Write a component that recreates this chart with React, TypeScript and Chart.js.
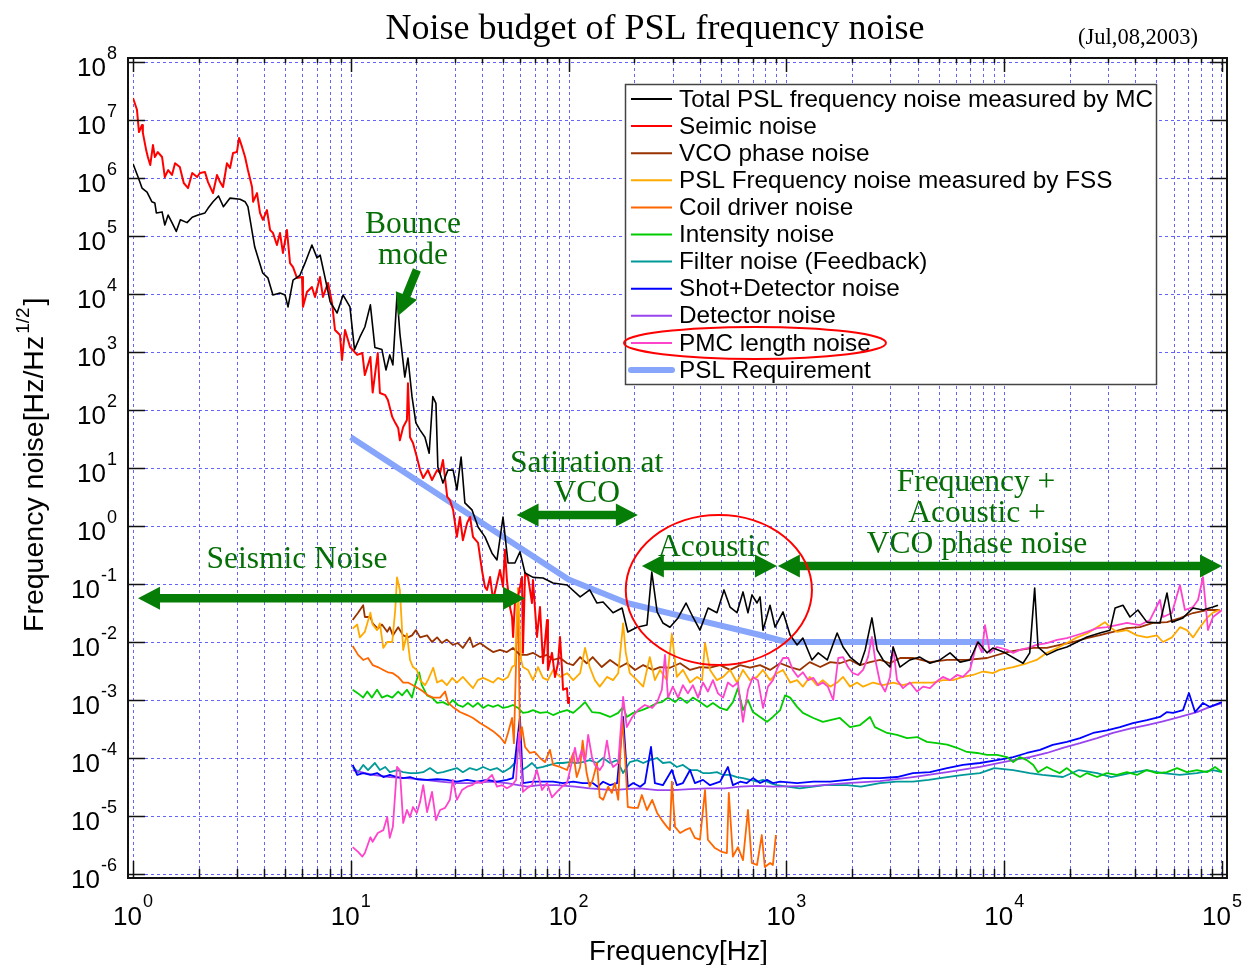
import React, { useEffect, useRef } from "react";
import { Chart, registerables } from "chart.js";

Chart.register(...registerables);

type Pt = [number, number];

// ---------------- data (frequency [Hz], noise [Hz/Hz^1/2]) ----------------
const xTickExponents = [0, 1, 2, 3, 4, 5];
const yTickExponents = [-6, -5, -4, -3, -2, -1, 0, 1, 2, 3, 4, 5, 6, 7, 8];

const totalMC: Pt[] = [
  [1.0, 1.75e6], [1.054, 1.05e6], [1.1, 6.7e5], [1.16, 5.7e5], [1.22, 3.9e5], [1.26, 3.7e5], [1.28, 2.5e5], [1.36, 2.6e5],
  [1.4, 1.55e5], [1.45, 2.3e5], [1.51, 1.7e5], [1.58, 1.2e5], [1.65, 1.9e5], [1.77, 1.7e5], [1.87, 2.1e5], [1.99, 2.3e5],
  [2.14, 2.5e5], [2.21, 3.0e5], [2.33, 3.9e5], [2.47, 4.9e5], [2.6, 3.2e5], [2.79, 4.5e5], [3.1, 4.3e5], [3.27, 3.9e5],
  [3.37, 3.2e5], [3.62, 6.5e4], [3.94, 2.3e4], [4.16, 1.9e4], [4.39, 9.6e3], [4.73, 1.04e4], [4.99, 9.6e3], [5.15, 6.0e3],
  [5.43, 1.74e4], [5.84, 2.1e4], [6.16, 3.4e4], [6.63, 7.0e4], [7.0, 4.2e4], [7.23, 4.7e4], [7.62, 1.9e4], [8.04, 7.3e3],
  [8.65, 4.7e3], [9.22, 9.6e3], [9.91, 6.0e3], [10.4, 1.1e3], [11.0, 1.8e3], [11.6, 2.7e3], [12.3, 6.5e3], [12.9, 1.2e3],
  [13.9, 1.1e3], [14.5, 490], [15.1, 890], [15.6, 600], [16.3, 9.6e3], [16.8, 2.1e3], [17.7, 370], [18.3, 790],
  [19.1, 170], [19.9, 60], [20.8, 45], [21.9, 34], [22.9, 18], [23.8, 170], [24.6, 130], [25.1, 10.4],
  [26.5, 5.5], [27.9, 9.2], [29.5, 9.2], [30.7, 4.2], [32.1, 15.5], [33.4, 2.5], [36.0, 1.9], [38.4, 0.96],
  [41.3, 0.65], [44.5, 0.34], [46.9, 0.26], [50.0, 1.43], [52.7, 0.23], [56.7, 0.23], [59.8, 0.36], [63.1, 0.155],
  [68.7, 0.13], [76.3, 0.127], [84.8, 0.104], [98.4, 0.096], [113, 0.06], [125, 0.079], [135, 0.047], [144, 0.049],
  [160, 0.032], [176, 0.0385], [187, 0.0149], [206, 0.018], [229, 0.0196], [241, 0.16], [255, 0.033], [271, 0.0213],
  [292, 0.018], [318, 0.026], [346, 0.047], [372, 0.027], [401, 0.016], [437, 0.0385], [480, 0.032], [517, 0.079],
  [551, 0.04], [593, 0.032], [632, 0.073], [666, 0.032], [695, 0.065], [733, 0.047], [757, 0.06], [781, 0.016],
  [841, 0.043], [887, 0.018], [965, 0.033], [1040, 0.0132], [1120, 0.0089], [1190, 0.0117], [1310, 0.0049], [1400, 0.0065],
  [1540, 0.0049], [1710, 0.0143], [1820, 0.0082], [1960, 0.0055], [2180, 0.004], [2300, 0.0073], [2470, 0.026], [2610, 0.0073],
  [2780, 0.0049], [2990, 0.0037], [3090, 0.0082], [3320, 0.0037], [3690, 0.0049], [4100, 0.0055], [4560, 0.0043], [5070, 0.0049],
  [5640, 0.0065], [6270, 0.0045], [6960, 0.0049], [7580, 0.01], [8340, 0.0065], [8890, 0.0079], [10100, 0.0065], [12200, 0.0043],
  [13100, 0.0065], [13800, 0.085], [14300, 0.0082], [15700, 0.006], [17500, 0.0073], [19400, 0.0082], [21600, 0.01], [24000, 0.0122],
  [27500, 0.0143], [30600, 0.016], [32300, 0.0385], [35100, 0.043], [37800, 0.027], [41100, 0.0356], [45200, 0.022], [51900, 0.0213],
  [55900, 0.07], [58900, 0.022], [66200, 0.026], [73600, 0.0385], [81800, 0.0356], [90900, 0.04], [95900, 0.043],
];

const seismic: Pt[] = [
  [1.0, 2.4e7], [1.043, 1.5e7], [1.065, 6.2e6], [1.1, 8.2e6], [1.11, 6.0e6], [1.15, 3.0e6], [1.17, 2.3e6], [1.2, 1.67e6],
  [1.235, 3.7e6], [1.26, 2.3e6], [1.3, 2.8e6], [1.36, 2.3e6], [1.4, 1.04e6], [1.45, 1.37e6], [1.51, 1.13e6], [1.56, 1.8e6],
  [1.64, 1.55e6], [1.71, 8.2e5], [1.79, 6.7e5], [1.87, 1.22e6], [1.97, 1.04e6], [2.03, 1.22e6], [2.14, 1.27e6], [2.21, 8.5e5],
  [2.33, 5.5e5], [2.43, 1.13e6], [2.51, 8.5e5], [2.59, 7.0e5], [2.7, 1.8e6], [2.79, 1.49e6], [2.88, 2.7e6], [3.0, 2.8e6],
  [3.07, 4.9e6], [3.17, 3.4e6], [3.27, 2.3e6], [3.37, 1.37e6], [3.52, 7.0e5], [3.56, 3.9e5], [3.71, 5.5e5], [3.83, 2.5e5],
  [3.95, 1.9e5], [4.12, 2.8e5], [4.26, 1.27e5], [4.39, 1.13e5], [4.58, 7.0e4], [4.73, 1.13e5], [4.88, 5.1e4], [5.09, 1.27e5],
  [5.26, 3.4e4], [5.43, 2.9e4], [5.66, 1.89e4], [5.97, 1.96e4], [6.03, 6.0e3], [6.29, 1.08e4], [6.63, 1.32e4], [6.85, 8.9e3],
  [7.22, 1.96e4], [7.45, 8.9e3], [7.86, 1.55e4], [8.2, 7.0e3], [8.46, 2.4e3], [8.92, 1.96e3], [9.11, 730], [9.41, 2.4e3],
  [9.92, 1.22e3], [10.7, 890], [11.3, 960], [11.6, 400], [12.3, 820], [12.6, 200], [13.3, 960], [13.6, 196],
  [14.4, 180], [14.8, 149], [15.5, 76], [16.0, 60], [16.5, 49], [16.8, 30], [17.4, 51], [18.1, 67],
  [18.3, 290], [18.7, 34], [19.3, 27], [20.1, 15.5], [20.8, 9.2], [21.5, 6.7], [22.6, 9.2], [23.6, 6.2],
  [24.9, 9.2], [25.7, 8.2], [26.5, 13.7], [27.7, 3.2], [28.5, 2.8], [29.5, 1.89], [30.7, 0.65], [31.7, 1.43],
  [32.7, 0.57], [34.2, 1.13], [35.3, 1.43], [36.4, 0.65], [38.4, 0.51], [40.0, 0.174], [41.3, 0.089], [42.2, 0.079],
  [43.6, 0.132], [45.0, 0.053], [46.9, 0.104], [48.4, 0.174], [50.0, 0.089], [51.0, 0.39], [52.1, 0.117], [53.8, 0.04],
  [55.0, 0.027], [55.6, 0.0122], [56.7, 0.047], [58.6, 0.06], [61.1, 0.132], [61.7, 0.0065], [63.1, 0.155], [65.1, 0.132],
  [67.9, 0.047], [68.6, 0.117], [71.6, 0.0122], [73.9, 0.04], [76.3, 0.0043], [79.6, 0.024], [80.4, 0.0033], [83.9, 0.0065],
  [86.6, 0.0025], [89.4, 0.0043], [91.3, 0.0122], [93.3, 0.0033], [94.3, 0.0015], [98.3, 0.0016], [99.4, 8.9e-4], [100.4, 1.13e-3],
];

const vcoPhase: Pt[] = [
  [10.2, 0.024], [10.8, 0.032], [11.4, 0.043], [11.6, 0.027], [12.3, 0.027], [12.6, 0.021], [13.3, 0.017], [13.9, 0.02],
  [14.7, 0.015], [15.1, 0.018], [15.6, 0.013], [16.5, 0.018], [17.4, 0.013], [18.3, 0.012], [19.1, 0.013], [19.9, 0.016],
  [20.8, 0.012], [22.4, 0.013], [23.6, 0.01], [24.9, 0.012], [26.2, 0.0096], [27.6, 0.011], [29.4, 0.0089], [31.0, 0.0096],
  [32.7, 0.0079], [35.2, 0.012], [36.4, 0.0082], [39.2, 0.0096], [42.2, 0.0079], [45.0, 0.0067], [48.4, 0.0073], [52.1, 0.0067],
  [55.5, 0.0079], [59.8, 0.006], [64.4, 0.006], [68.6, 0.0065], [73.9, 0.0055], [79.6, 0.006], [84.9, 0.0049], [91.4, 0.0053],
  [98.4, 0.0043], [105, 0.004], [113, 0.0055], [121, 0.0043], [129, 0.0055], [142, 0.0037], [155, 0.0049], [172, 0.0037],
  [185, 0.0043], [202, 0.0033], [220, 0.004], [244, 0.0033], [263, 0.0037], [292, 0.0036], [325, 0.0043], [361, 0.0033],
  [401, 0.0037], [446, 0.0036], [496, 0.004], [551, 0.0033], [613, 0.004], [681, 0.0036], [757, 0.004], [842, 0.0033],
  [936, 0.0043], [1040, 0.0037], [1150, 0.0033], [1280, 0.0045], [1430, 0.0037], [1590, 0.0045], [1760, 0.0043], [1960, 0.0049],
  [2180, 0.004], [2420, 0.0045], [2690, 0.0049], [2990, 0.0043], [3330, 0.0053], [3810, 0.0053], [4560, 0.0045], [5470, 0.0049],
  [6750, 0.0049], [8340, 0.0053], [10300, 0.0067], [11800, 0.0073], [13600, 0.0079], [15700, 0.0079], [18000, 0.0089], [20700, 0.01],
  [24000, 0.0117], [27500, 0.0132], [31600, 0.0149], [36600, 0.0174], [42000, 0.0181], [48200, 0.0213], [55900, 0.0221], [64100, 0.0259],
  [73600, 0.0316], [85400, 0.0356], [97800, 0.0356],
];

const fssNoise: Pt[] = [
  [10.2, 0.017], [10.7, 0.02], [11.0, 0.012], [11.6, 0.015], [12.3, 0.032], [12.6, 0.02], [13.2, 0.016], [13.6, 0.021],
  [14.1, 0.0079], [14.7, 0.01], [15.5, 0.01], [16.0, 0.036], [16.3, 0.13], [16.8, 0.079], [17.4, 0.0073], [18.1, 0.014],
  [18.7, 0.0049], [19.3, 0.0037], [20.1, 0.0033], [20.8, 0.0022], [21.9, 0.0018], [22.6, 0.0022], [23.9, 0.0036], [24.9, 0.002],
  [26.2, 0.0022], [27.6, 0.0018], [29.2, 0.0024], [30.7, 0.002], [32.7, 0.0025], [34.5, 0.002], [36.4, 0.0016], [38.3, 0.0022],
  [40.5, 0.0024], [42.7, 0.0022], [45.0, 0.002], [47.4, 0.0024], [50.0, 0.0022], [52.7, 0.0025], [55.0, 0.0037], [56.7, 0.004],
  [58.6, 0.079], [60.5, 0.0049], [61.7, 0.0037], [65.1, 0.0033], [68.6, 0.0022], [72.4, 0.0037], [76.2, 0.0024], [80.3, 0.0022],
  [84.9, 0.0033], [91.4, 0.0025], [98.4, 0.0029], [105, 0.0022], [113, 0.0029], [119, 0.0079], [125, 0.0037], [132, 0.0022],
  [139, 0.0017], [150, 0.0025], [160, 0.0022], [169, 0.0029], [178, 0.021], [183, 0.0065], [191, 0.0029], [206, 0.0022],
  [220, 0.0017], [236, 0.0055], [249, 0.0022], [263, 0.0033], [283, 0.0022], [298, 0.014], [314, 0.0025], [335, 0.0033],
  [361, 0.002], [389, 0.0025], [410, 0.0022], [423, 0.0096], [446, 0.0033], [480, 0.0022], [512, 0.0025], [551, 0.0033],
  [593, 0.002], [632, 0.0033], [681, 0.0022], [733, 0.0025], [781, 0.0033], [842, 0.0022], [905, 0.0029], [964, 0.0033],
  [1040, 0.002], [1120, 0.0022], [1190, 0.0017], [1280, 0.0025], [1380, 0.0018], [1470, 0.0022], [1590, 0.0017], [1710, 0.002],
  [1820, 0.0025], [1960, 0.0017], [2110, 0.002], [2250, 0.0017], [2500, 0.002], [2780, 0.0018], [3090, 0.002], [3430, 0.0018],
  [3810, 0.002], [4240, 0.002], [4710, 0.002], [5230, 0.0022], [5820, 0.0022], [6470, 0.0025], [7190, 0.0027], [7990, 0.0031],
  [8880, 0.0029], [9560, 0.0033], [11000, 0.0037], [12700, 0.0043], [14100, 0.0049], [15700, 0.0065], [17500, 0.0079], [19400, 0.0096],
  [21600, 0.012], [24000, 0.014], [26700, 0.018], [29000, 0.022], [30600, 0.018], [32900, 0.015], [36600, 0.016], [40700, 0.013],
  [45200, 0.012], [50200, 0.013], [53600, 0.01], [58900, 0.012], [64100, 0.018], [69000, 0.016], [73600, 0.012], [79200, 0.018],
  [85400, 0.026], [90900, 0.032], [97800, 0.036],
];

const coilDriver: Pt[] = [
  [10.2, 0.0085], [10.8, 0.006], [11.4, 0.0049], [12.0, 0.0053], [12.6, 0.004], [13.3, 0.0037], [14.1, 0.0033], [14.8, 0.003],
  [15.6, 0.0029], [16.5, 0.0025], [17.4, 0.002], [18.3, 0.002], [19.3, 0.0018], [20.4, 0.0016], [21.5, 0.0014], [22.6, 0.0012],
  [23.9, 0.0011], [25.7, 0.0011], [27.1, 0.0014], [28.0, 8.9e-4], [29.4, 7.6e-4], [31.7, 6.2e-4], [34.2, 5.5e-4], [36.4, 4.9e-4],
  [39.2, 4.0e-4], [42.2, 3.4e-4], [45.0, 2.9e-4], [48.4, 2.3e-4], [51.0, 1.8e-4], [52.7, 2.7e-4], [55.0, 4.9e-4], [56.1, 1.8e-4],
  [58.6, 0.085], [59.8, 2.0e-4], [61.1, 3.4e-4], [63.1, 1.55e-4], [66.4, 1.22e-4], [70.0, 1.27e-4], [73.9, 1.0e-4], [77.9, 8.5e-5],
  [82.1, 1.38e-4], [84.9, 7.6e-5], [91.4, 7.0e-5], [98.4, 6.2e-5], [105, 1.22e-4], [109, 4.7e-5], [113, 7.0e-5], [116, 2.0e-4],
  [121, 5.5e-5], [125, 3.2e-5], [129, 4.2e-5], [135, 8.2e-5], [139, 2.1e-5], [144, 1.9e-5], [152, 3.2e-5], [158, 2.5e-5],
  [163, 3.7e-5], [169, 1.9e-5], [176, 5.1e-4], [182, 9.2e-5], [187, 1.43e-5], [198, 1.38e-5], [208, 1.38e-5], [217, 2.3e-5],
  [229, 1.27e-5], [242, 1.9e-5], [255, 1.13e-5], [268, 8.5e-6], [283, 6.5e-6], [292, 5.7e-6], [298, 3.9e-5], [308, 6.5e-6],
  [325, 5.1e-6], [342, 5.7e-6], [361, 6.2e-6], [380, 4.2e-6], [401, 3.9e-6], [423, 2.8e-5], [436, 3.9e-6], [470, 2.8e-6],
  [506, 2.4e-6], [533, 2.3e-6], [544, 2.5e-5], [568, 2.0e-6], [599, 2.9e-6], [632, 1.74e-6], [666, 1.27e-5], [694, 1.55e-6],
  [733, 1.43e-6], [771, 4.7e-6], [796, 1.32e-6], [842, 1.55e-6], [867, 1.43e-6], [895, 4.7e-6],
];

const intensity: Pt[] = [
  [10.2, 0.0015], [10.8, 0.0013], [11.4, 0.0011], [11.9, 0.0014], [12.5, 0.0011], [13.2, 0.0015], [13.9, 0.0011], [14.7, 0.0012],
  [15.5, 0.0011], [16.5, 0.0014], [17.2, 0.0012], [18.1, 0.0015], [19.1, 0.0011], [19.7, 0.0018], [20.6, 0.003], [21.2, 0.0018],
  [22.4, 0.0012], [23.6, 0.0011], [24.9, 8.9e-4], [26.5, 9.2e-4], [28.0, 8.2e-4], [29.4, 1.0e-3], [31.0, 8.2e-4], [32.7, 7.6e-4],
  [34.5, 8.9e-4], [36.4, 7.6e-4], [38.3, 8.9e-4], [40.5, 7.3e-4], [42.7, 8.2e-4], [45.0, 7.6e-4], [47.4, 8.2e-4], [50.0, 7.3e-4],
  [52.7, 7.6e-4], [55.5, 8.2e-4], [58.6, 7.3e-4], [61.7, 6.0e-4], [65.1, 6.2e-4], [68.6, 6.7e-4], [73.9, 6.0e-4], [79.6, 6.2e-4],
  [84.9, 5.5e-4], [91.4, 6.2e-4], [98.4, 6.7e-4], [105, 6.0e-4], [113, 7.6e-4], [119, 9.2e-4], [128, 6.2e-4], [139, 6.0e-4],
  [155, 5.1e-4], [169, 6.0e-4], [178, 7.6e-4], [185, 5.1e-4], [198, 6.0e-4], [217, 6.7e-4], [236, 7.6e-4], [255, 8.9e-4],
  [268, 9.2e-4], [286, 0.0011], [308, 9.2e-4], [325, 0.0011], [350, 8.9e-4], [372, 0.0011], [401, 9.2e-4], [432, 7.6e-4],
  [460, 8.9e-4], [496, 7.3e-4], [533, 6.7e-4], [568, 9.2e-4], [599, 0.0016], [632, 6.7e-4], [666, 1.0e-3], [702, 6.2e-4],
  [757, 5.1e-4], [814, 4.2e-4], [867, 5.1e-4], [936, 6.7e-4], [986, 0.0012], [1040, 0.0011], [1120, 7.6e-4], [1190, 6.0e-4],
  [1330, 4.9e-4], [1470, 4.2e-4], [1590, 4.5e-4], [1760, 4.9e-4], [1960, 3.4e-4], [2180, 3.7e-4], [2420, 5.1e-4], [2550, 3.4e-4],
  [2900, 2.7e-4], [3220, 2.5e-4], [3580, 2.2e-4], [3980, 2.3e-4], [4420, 1.9e-4], [4910, 1.8e-4], [5470, 1.7e-4], [6070, 1.5e-4],
  [6750, 1.27e-4], [7510, 1.22e-4], [8340, 1.13e-4], [9270, 1.13e-4], [10300, 1.04e-4], [11000, 8.5e-5], [11800, 1.04e-4], [12700, 9.2e-5],
  [13600, 7.6e-5], [14300, 5.7e-5], [15700, 7.0e-5], [16700, 6.2e-5], [18000, 5.5e-5], [19400, 6.7e-5], [20700, 5.5e-5], [22300, 4.7e-5],
  [24000, 5.5e-5], [26700, 4.7e-5], [29600, 5.5e-5], [32900, 5.1e-5], [36600, 5.7e-5], [40700, 5.1e-5], [45200, 6.2e-5], [50200, 5.5e-5],
  [55900, 5.7e-5], [62200, 6.7e-5], [69000, 5.7e-5], [76700, 6.2e-5], [85400, 5.7e-5], [92900, 7.0e-5], [100000, 5.7e-5],
];

const filterNoise: Pt[] = [
  [10.2, 7.0e-5], [10.8, 5.7e-5], [11.4, 7.6e-5], [12.0, 6.2e-5], [12.9, 8.2e-5], [13.6, 6.2e-5], [14.4, 7.0e-5], [15.1, 5.7e-5],
  [16.3, 6.2e-5], [17.4, 5.7e-5], [18.7, 5.5e-5], [20.1, 5.5e-5], [21.5, 5.7e-5], [23.1, 6.7e-5], [24.9, 5.5e-5], [26.5, 5.7e-5],
  [28.5, 6.2e-5], [30.7, 6.7e-5], [32.7, 5.7e-5], [35.2, 6.7e-5], [37.9, 6.2e-5], [40.5, 7.0e-5], [43.6, 6.2e-5], [46.9, 6.7e-5],
  [50.0, 5.7e-5], [53.8, 6.7e-5], [56.7, 8.2e-5], [59.2, 1.68e-4], [61.1, 6.2e-5], [64.4, 7.0e-5], [67.9, 8.2e-5], [71.5, 6.7e-5],
  [76.2, 7.0e-5], [82.1, 7.6e-5], [88.4, 8.2e-5], [94.1, 8.2e-5], [101, 8.5e-5], [109, 8.2e-5], [116, 8.5e-5], [125, 9.2e-5],
  [135, 8.2e-5], [144, 1.0e-4], [155, 8.2e-5], [167, 9.2e-5], [178, 5.5e-5], [191, 8.5e-5], [206, 9.2e-5], [220, 8.2e-5],
  [236, 9.2e-5], [255, 1.0e-4], [271, 8.2e-5], [292, 8.5e-5], [314, 7.0e-5], [335, 7.6e-5], [361, 6.2e-5], [389, 6.2e-5],
  [414, 5.5e-5], [446, 5.5e-5], [480, 5.7e-5], [512, 5.1e-5], [551, 5.1e-5], [593, 4.7e-5], [632, 4.5e-5], [681, 4.2e-5],
  [733, 3.9e-5], [781, 4.2e-5], [842, 3.7e-5], [905, 3.4e-5], [1010, 3.2e-5], [1150, 3.0e-5], [1330, 3.2e-5], [1500, 3.4e-5],
  [1900, 3.4e-5], [2200, 3.2e-5], [2690, 3.7e-5], [3200, 3.9e-5], [3810, 3.9e-5], [4500, 4.2e-5], [5470, 4.7e-5], [6500, 5.1e-5],
  [7740, 5.5e-5], [9000, 6.7e-5], [11000, 6.2e-5], [13100, 5.5e-5], [15000, 5.1e-5], [18600, 4.7e-5], [22000, 6.2e-5], [26700, 5.5e-5],
  [31000, 4.7e-5], [37800, 5.5e-5], [45000, 6.2e-5], [53600, 5.5e-5], [64000, 5.1e-5], [76700, 5.5e-5], [90900, 6.2e-5], [100000, 5.7e-5],
];

const shotDetector: Pt[] = [
  [10.2, 7.6e-5], [10.7, 5.1e-5], [11.4, 5.5e-5], [12.3, 5.1e-5], [13.2, 5.5e-5], [14.1, 4.7e-5], [15.1, 5.1e-5], [16.3, 4.7e-5],
  [17.4, 4.5e-5], [18.7, 4.7e-5], [20.1, 4.3e-5], [22.4, 4.2e-5], [24.9, 4.3e-5], [27.6, 4.2e-5], [30.7, 3.9e-5], [34.2, 4.2e-5],
  [37.9, 3.9e-5], [42.2, 4.2e-5], [46.9, 3.9e-5], [52.1, 4.2e-5], [55.5, 4.5e-5], [59.8, 5.1e-4], [61.7, 3.7e-5], [68.6, 3.9e-5],
  [76.2, 3.9e-5], [84.9, 3.9e-5], [94.1, 3.7e-5], [105, 3.9e-5], [116, 3.7e-5], [129, 3.7e-5], [136, 3.2e-5], [144, 3.9e-5],
  [155, 3.4e-5], [167, 3.7e-5], [178, 5.1e-4], [187, 3.2e-5], [198, 3.7e-5], [213, 3.2e-5], [224, 3.7e-5], [239, 1.55e-4],
  [249, 3.7e-5], [271, 3.4e-5], [298, 6.2e-5], [314, 3.4e-5], [335, 3.7e-5], [361, 6.2e-5], [380, 3.7e-5], [414, 4.2e-5],
  [446, 3.4e-5], [496, 3.9e-5], [539, 7.0e-5], [568, 3.4e-5], [613, 3.9e-5], [658, 3.7e-5], [702, 4.5e-5], [757, 3.7e-5],
  [814, 4.2e-5], [867, 3.7e-5], [936, 3.9e-5], [1120, 3.7e-5], [1330, 3.9e-5], [1590, 3.9e-5], [1900, 4.2e-5], [2250, 4.5e-5],
  [2690, 4.5e-5], [3220, 4.7e-5], [3810, 5.5e-5], [4560, 5.7e-5], [5470, 6.7e-5], [6470, 7.6e-5], [7740, 8.2e-5], [9270, 9.2e-5],
  [11000, 1.04e-4], [12700, 1.22e-4], [14600, 1.38e-4], [16700, 1.68e-4], [19400, 1.9e-4], [22300, 2.2e-4], [25600, 2.7e-4], [29600, 3.0e-4],
  [34000, 3.4e-4], [39000, 4.0e-4], [45200, 4.5e-4], [51900, 5.1e-4], [55900, 6.2e-4], [59600, 6.0e-4], [66200, 6.7e-4], [70500, 1.32e-3],
  [75200, 6.2e-4], [81800, 8.9e-4], [88000, 7.6e-4], [100000, 9.2e-4],
];

const detector: Pt[] = [
  [10.2, 6.2e-5], [12.6, 5.1e-5], [15.1, 4.7e-5], [18.1, 4.5e-5], [21.9, 4.2e-5], [25.7, 3.9e-5], [30.7, 3.7e-5], [36.4, 3.7e-5],
  [43.6, 3.9e-5], [52.1, 3.7e-5], [64.4, 3.2e-5], [73.9, 3.4e-5], [88.4, 3.4e-5], [107, 3.2e-5], [125, 3.0e-5], [160, 2.8e-5],
  [182, 2.9e-5], [213, 3.0e-5], [255, 2.8e-5], [301, 2.8e-5], [361, 2.9e-5], [432, 3.0e-5], [522, 3.0e-5], [613, 3.2e-5],
  [733, 3.3e-5], [867, 3.2e-5], [1330, 3.3e-5], [1900, 3.7e-5], [2690, 4.0e-5], [3810, 4.7e-5], [5470, 5.7e-5], [7740, 7.0e-5],
  [11000, 9.2e-5], [13100, 1.04e-4], [15700, 1.22e-4], [18600, 1.5e-4], [22300, 1.8e-4], [26700, 2.2e-4], [31600, 2.7e-4], [37800, 3.2e-4],
  [45200, 3.7e-4], [53600, 4.3e-4], [64100, 5.1e-4], [76700, 6.2e-4], [88000, 7.6e-4], [100000, 8.9e-4],
];

const pmcLength: Pt[] = [
  [10.2, 2.9e-6], [10.8, 2.4e-6], [11.3, 2.0e-6], [11.6, 2.3e-6], [12.3, 4.3e-6], [12.6, 3.6e-6], [13.3, 5.1e-6], [14.1, 5.7e-6],
  [14.7, 9.6e-6], [15.1, 4.2e-6], [15.6, 6.5e-6], [16.3, 7.0e-5], [16.8, 6.2e-5], [17.4, 7.6e-6], [18.1, 1.27e-5], [18.7, 9.6e-6],
  [19.3, 1.43e-5], [20.1, 1.13e-5], [20.8, 1.74e-5], [21.5, 3.4e-5], [22.4, 1.17e-5], [23.6, 2.6e-5], [24.6, 8.5e-6], [25.7, 1.27e-5],
  [27.1, 1.38e-5], [28.5, 1.9e-5], [29.4, 4.2e-5], [30.7, 1.9e-5], [32.4, 2.8e-5], [34.2, 3.2e-5], [36.0, 3.4e-5], [37.9, 3.9e-5],
  [40.0, 3.7e-5], [42.2, 4.2e-5], [44.5, 5.1e-5], [46.9, 3.2e-5], [49.5, 3.4e-5], [52.1, 3.0e-5], [55.0, 3.4e-5], [57.4, 4.2e-5],
  [59.2, 2.8e-4], [61.7, 2.6e-5], [64.4, 3.0e-5], [67.9, 3.4e-5], [71.5, 6.2e-5], [75.5, 2.8e-5], [79.6, 3.7e-5], [83.8, 2.1e-5],
  [88.4, 2.6e-5], [93.3, 3.2e-5], [98.4, 3.7e-5], [104, 9.2e-5], [107, 1.5e-4], [110, 8.2e-5], [115, 1.38e-4], [119, 8.2e-5],
  [123, 2.5e-4], [128, 1.04e-4], [132, 7.6e-5], [139, 6.2e-5], [144, 7.6e-5], [150, 2.0e-4], [155, 9.2e-5], [160, 7.0e-5],
  [169, 8.2e-5], [178, 1.13e-3], [185, 3.4e-4], [196, 5.1e-4], [208, 6.7e-4], [224, 8.2e-4], [242, 7.3e-4], [255, 9.2e-4],
  [268, 0.0015], [277, 0.006], [286, 0.0011], [301, 0.0017], [318, 0.0011], [335, 0.0018], [353, 0.0013], [372, 0.0018],
  [393, 0.0011], [414, 0.002], [436, 0.0014], [460, 0.0022], [485, 0.0013], [512, 0.0011], [539, 0.002], [568, 0.0017],
  [599, 0.002], [632, 4.2e-4], [666, 0.0015], [702, 0.0025], [740, 0.0022], [781, 7.3e-4], [823, 0.0017], [867, 0.0022],
  [914, 0.0037], [965, 0.0053], [1020, 0.0053], [1070, 0.0033], [1130, 0.0025], [1190, 0.003], [1260, 0.0022], [1330, 0.0024],
  [1400, 0.0018], [1470, 0.002], [1550, 0.0017], [1640, 0.001], [1730, 0.0053], [1820, 0.0055], [1920, 0.0037], [2020, 0.0029],
  [2130, 0.0027], [2250, 0.0033], [2370, 0.0055], [2470, 0.0122], [2550, 0.0053], [2690, 0.002], [2840, 0.0014], [2990, 0.0025],
  [3090, 0.0082], [3220, 0.0022], [3430, 0.0016], [3690, 0.002], [3980, 0.0014], [4240, 0.0017], [4560, 0.0016], [4910, 0.0021],
  [5230, 0.0025], [5640, 0.0022], [6070, 0.0027], [6470, 0.0025], [6960, 0.0033], [7510, 0.01], [7900, 0.0067], [8160, 0.0196],
  [8600, 0.0065], [9270, 0.0082], [10300, 0.0073], [11000, 0.0065], [11800, 0.0073], [12900, 0.0079], [14100, 0.0089], [15700, 0.0096],
  [17500, 0.0109], [19400, 0.0117], [21600, 0.0132], [24000, 0.0149], [26700, 0.0174], [29600, 0.0181], [32900, 0.0196], [36600, 0.0213],
  [42000, 0.0196], [46700, 0.024], [51900, 0.053], [53600, 0.027], [58900, 0.0316], [64100, 0.096], [67600, 0.0356], [73600, 0.04],
  [77600, 0.053], [81800, 0.132], [86200, 0.0161], [90900, 0.027], [100000, 0.0356],
];

const requirement: Pt[] = [
  [10, 34], [100, 0.12], [185, 0.047], [372, 0.025], [757, 0.0132], [1000, 0.01], [10000, 0.01],
];

// legend labels in display order
const seriesLabels = [
  "Total PSL frequency noise measured by MC",
  "Seimic noise",
  "VCO phase noise",
  "PSL Frequency noise measured by FSS",
  "Coil driver noise",
  "Intensity noise",
  "Filter noise (Feedback)",
  "Shot+Detector noise",
  "Detector noise",
  "PMC length noise",
  "PSL Requirement",
];

// annotation texts / arrows, placed in data coordinates [Hz, value]
const noteTexts: { text: string; f: number; v: number }[] = [
  { text: "Bounce", f: 19.3, v: 1.74e5 },
  { text: "mode", f: 19.3, v: 5.1e4 },
  { text: "Seismic Noise", f: 5.66, v: 0.292 },
  { text: "Satiration at", f: 121, v: 13.2 },
  { text: "VCO", f: 121, v: 4.0 },
  { text: "Acoustic", f: 465, v: 0.47 },
  { text: "Frequency +", f: 7420, v: 6.2 },
  { text: "Acoustic +", f: 7500, v: 1.82 },
  { text: "VCO phase noise", f: 7500, v: 0.53 },
];
const noteArrows: { a: Pt; b: Pt; both: boolean }[] = [
  { a: [1.054, 0.057], b: [63.1, 0.057], both: true },
  { a: [57.7, 1.55], b: [208, 1.55], both: true },
  { a: [217, 0.204], b: [905, 0.204], both: true },
  { a: [914, 0.204], b: [100000, 0.204], both: true },
  { a: [20.1, 2.6e4], b: [16.5, 4.2e3], both: false },
];
// bounding box of the "Acoustic" ellipse: [fLeft, fRight, vTop, vBottom]
const acousticEllipse = [183, 1310, 1.55, 0.004];

// ---------------- styling ----------------
const SANS = '"Liberation Sans", Arial, Helvetica, sans-serif';
const SERIF = '"Liberation Serif", "Times New Roman", Times, serif';
const GREEN_TEXT = "#066e06";
const GREEN_ARROW = "#067d06";

const seriesStyle = [
  { color: "#000000", width: 1.6, order: 0 },
  { color: "#ff0000", width: 2, order: 1 },
  { color: "#993300", width: 1.8, order: 4 },
  { color: "#ffaa00", width: 1.8, order: 3 },
  { color: "#ff6600", width: 1.8, order: 5 },
  { color: "#00cc00", width: 1.8, order: 6 },
  { color: "#009999", width: 1.8, order: 9 },
  { color: "#0000ff", width: 1.8, order: 7 },
  { color: "#9944ee", width: 1.8, order: 8 },
  { color: "#ff44cc", width: 1.8, order: 2 },
  { color: "#87a5fb", width: 6, order: 10 },
];
const seriesData = [totalMC, seismic, vcoPhase, fssNoise, coilDriver, intensity, filterNoise, shotDetector, detector, pmcLength, requirement];

function arrowHead(ctx: CanvasRenderingContext2D, tx: number, ty: number, ux: number, uy: number, len: number, half: number) {
  const nx = -uy, ny = ux;
  const bx = tx - ux * len, by = ty - uy * len;
  ctx.beginPath();
  ctx.moveTo(tx, ty);
  ctx.lineTo(bx + nx * half, by + ny * half);
  ctx.lineTo(bx - nx * half, by - ny * half);
  ctx.closePath();
  ctx.fill();
}

function drawArrow(ctx: CanvasRenderingContext2D, x1: number, y1: number, x2: number, y2: number, both: boolean) {
  const dx = x2 - x1, dy = y2 - y1;
  const L = Math.hypot(dx, dy);
  const ux = dx / L, uy = dy / L;
  const len = 22, half = 11.5, shaft = 8.5;
  const sx = both ? x1 + ux * (len - 2) : x1;
  const sy = both ? y1 + uy * (len - 2) : y1;
  const ex = x2 - ux * (len - 2), ey = y2 - uy * (len - 2);
  ctx.lineWidth = shaft;
  ctx.lineCap = "butt";
  ctx.beginPath();
  ctx.moveTo(sx, sy);
  ctx.lineTo(ex, ey);
  ctx.stroke();
  arrowHead(ctx, x2, y2, ux, uy, len, half);
  if (both) arrowHead(ctx, x1, y1, -ux, -uy, len, half);
}

const backgroundPlugin = {
  id: "bgGrid",
  beforeDraw(chart: any) {
    const ctx = chart.ctx as CanvasRenderingContext2D;
    ctx.save();
    ctx.fillStyle = "#ffffff";
    ctx.fillRect(0, 0, chart.width, chart.height);
    ctx.restore();
  },
  beforeDatasetsDraw(chart: any) {
    const ctx = chart.ctx as CanvasRenderingContext2D;
    const ca = chart.chartArea;
    const xs = chart.scales.x, ys = chart.scales.y;
    ctx.save();
    ctx.strokeStyle = "rgba(60,60,255,0.8)";
    ctx.lineWidth = 1;
    ctx.setLineDash([3, 3]);
    for (let e = xTickExponents[0]; e < xTickExponents[xTickExponents.length - 1]; e++) {
      for (let m = 1; m <= 9; m++) {
        const px = Math.round(xs.getPixelForValue(m * Math.pow(10, e))) + 0.5;
        ctx.beginPath();
        ctx.moveTo(px, ca.top);
        ctx.lineTo(px, ca.bottom);
        ctx.stroke();
      }
    }
    {
      const px = Math.round(xs.getPixelForValue(Math.pow(10, xTickExponents[xTickExponents.length - 1]))) - 0.5;
      ctx.beginPath();
      ctx.moveTo(px, ca.top);
      ctx.lineTo(px, ca.bottom);
      ctx.stroke();
    }
    for (const e of yTickExponents) {
      const py = Math.round(ys.getPixelForValue(Math.pow(10, e))) + 0.5;
      ctx.beginPath();
      ctx.moveTo(ca.left, py);
      ctx.lineTo(ca.right, py);
      ctx.stroke();
    }
    ctx.restore();
  },
};

const overlayPlugin = {
  id: "overlay",
  afterDatasetsDraw(chart: any) {
    const ctx = chart.ctx as CanvasRenderingContext2D;
    const ca = chart.chartArea;
    const xs = chart.scales.x, ys = chart.scales.y;
    const X = (f: number) => xs.getPixelForValue(f);
    const Y = (v: number) => ys.getPixelForValue(v);
    ctx.save();

    // frame
    const L = ca.left - 5, R = ca.right + 5, T = ca.top - 4, B = ca.bottom + 4;
    ctx.strokeStyle = "#111";
    ctx.lineWidth = 2;
    ctx.setLineDash([]);
    ctx.strokeRect(L, T, R - L, B - T);

    // ticks
    ctx.lineWidth = 1.5;
    ctx.beginPath();
    const xTickVals: { v: number; major: boolean }[] = [];
    for (let e = xTickExponents[0]; e < xTickExponents[xTickExponents.length - 1]; e++) {
      for (let m = 1; m <= 9; m++) xTickVals.push({ v: m * Math.pow(10, e), major: m === 1 });
    }
    xTickVals.push({ v: Math.pow(10, xTickExponents[xTickExponents.length - 1]), major: true });
    for (const t of xTickVals) {
      const px = Math.round(X(t.v)) + 0.5;
      ctx.moveTo(px, T);
      ctx.lineTo(px, T + (t.major ? 14 : 5));
      ctx.moveTo(px, B);
      ctx.lineTo(px, B - (t.major ? 17 : 9));
    }
    for (const e of yTickExponents) {
      const py = Math.round(Y(Math.pow(10, e))) + 0.5;
      ctx.moveTo(L, py);
      ctx.lineTo(L + 17, py);
      ctx.moveTo(R, py);
      ctx.lineTo(R - 17, py);
    }
    ctx.stroke();

    // tick labels
    ctx.fillStyle = "#000";
    ctx.textBaseline = "alphabetic";
    ctx.textAlign = "left";
    const big = `26px ${SANS}`;
    const small = `18px ${SANS}`;
    for (const e of xTickExponents) {
      const px = X(Math.pow(10, e));
      ctx.font = big;
      const w1 = ctx.measureText("10").width;
      ctx.font = small;
      const es = String(e);
      const w2 = ctx.measureText(es).width;
      const start = px - (w1 + w2 + 1) / 2;
      ctx.font = big;
      ctx.fillText("10", start, ca.bottom + 51);
      ctx.font = small;
      ctx.fillText(es, start + w1 + 1, ca.bottom + 33);
    }
    for (const e of yTickExponents) {
      const py = Y(Math.pow(10, e));
      const es = String(e);
      ctx.font = small;
      const w2 = ctx.measureText(es).width;
      const right = ca.left - 16;
      ctx.fillText(es, right - w2, py - 3);
      ctx.font = big;
      const w1 = ctx.measureText("10").width;
      ctx.fillText("10", right - w2 - 1 - w1, py + 14);
    }

    // axis titles
    ctx.font = `27.5px ${SANS}`;
    ctx.textAlign = "center";
    ctx.fillText("Frequency[Hz]", (ca.left + ca.right) / 2 + 1, ca.bottom + 86);
    ctx.save();
    ctx.translate(43, 632);
    ctx.rotate(-Math.PI / 2);
    ctx.textAlign = "left";
    const mainT = "Frequency noise[Hz/Hz";
    ctx.font = `28.5px ${SANS}`;
    ctx.fillText(mainT, 0, 0);
    const wm = ctx.measureText(mainT).width;
    ctx.font = `19px ${SANS}`;
    ctx.fillText("1/2", wm + 2, -14);
    const ws = ctx.measureText("1/2").width;
    ctx.font = `28.5px ${SANS}`;
    ctx.fillText("]", wm + ws + 4, 0);
    ctx.restore();

    // title and date
    ctx.font = `36px ${SERIF}`;
    ctx.textAlign = "center";
    ctx.fillText("Noise budget of PSL frequency noise", 655, 39);
    ctx.font = `22.5px ${SERIF}`;
    ctx.fillText("(Jul,08,2003)", 1138, 44);

    // green annotations
    ctx.save();
    ctx.beginPath();
    ctx.rect(L, T, R - L, B - T);
    ctx.clip();
    ctx.fillStyle = GREEN_ARROW;
    ctx.strokeStyle = GREEN_ARROW;
    for (const a of noteArrows) {
      drawArrow(ctx, X(a.a[0]), Y(a.a[1]), X(a.b[0]), Y(a.b[1]), a.both);
    }
    ctx.restore();
    ctx.fillStyle = GREEN_TEXT;
    ctx.font = `31.5px ${SERIF}`;
    ctx.textAlign = "center";
    ctx.textBaseline = "middle";
    for (const t of noteTexts) ctx.fillText(t.text, X(t.f), Y(t.v) + 3);

    // acoustic ellipse
    {
      const x1 = X(acousticEllipse[0]), x2 = X(acousticEllipse[1]);
      const y1 = Y(acousticEllipse[2]), y2 = Y(acousticEllipse[3]);
      ctx.strokeStyle = "#ff0000";
      ctx.lineWidth = 2;
      ctx.beginPath();
      ctx.ellipse((x1 + x2) / 2, (y1 + y2) / 2, (x2 - x1) / 2, (y2 - y1) / 2, 0, 0, Math.PI * 2);
      ctx.stroke();
    }

    // legend
    const lx = ca.left + 492, ly = ca.top + 22, lw = 531, lh = 300;
    ctx.fillStyle = "#ffffff";
    ctx.fillRect(lx, ly, lw, lh);
    ctx.strokeStyle = "#444";
    ctx.lineWidth = 1.5;
    ctx.strokeRect(lx + 0.5, ly + 0.5, lw, lh);
    ctx.font = `24.3px ${SANS}`;
    ctx.textAlign = "left";
    ctx.textBaseline = "middle";
    seriesLabels.forEach((label, i) => {
      const y = ly + 15 + i * 27.1;
      const st = seriesStyle[i];
      ctx.strokeStyle = st.color;
      ctx.lineWidth = st.width > 3 ? 6 : 2;
      ctx.lineCap = st.width > 3 ? "round" : "butt";
      ctx.beginPath();
      ctx.moveTo(lx + 6, y);
      ctx.lineTo(lx + 47, y);
      ctx.stroke();
      ctx.fillStyle = "#000";
      ctx.fillText(label, lx + 54, y + 1);
    });
    // PMC highlight ellipse
    ctx.strokeStyle = "#ff0000";
    ctx.lineWidth = 2;
    ctx.beginPath();
    ctx.ellipse(lx + 130, ly + 15 + 9 * 27.1, 131, 16, 0, 0, Math.PI * 2);
    ctx.stroke();

    ctx.restore();
  },
};

export default function App() {
  const ref = useRef<HTMLCanvasElement>(null);
  useEffect(() => {
    document.body.style.margin = "0";
    document.body.style.overflow = "hidden";
    const canvas = ref.current;
    if (!canvas) return;
    const datasets = seriesData.map((d, i) => ({
      label: seriesLabels[i],
      data: d.map(([x, y]) => ({ x, y })),
      borderColor: seriesStyle[i].color,
      backgroundColor: seriesStyle[i].color,
      borderWidth: seriesStyle[i].width,
      pointRadius: 0,
      pointHoverRadius: 0,
      tension: 0,
      fill: false,
      borderJoinStyle: "round" as const,
      order: seriesStyle[i].order,
    }));
    const chart = new Chart(canvas, {
      type: "line",
      data: { datasets },
      options: {
        responsive: false,
        maintainAspectRatio: false,
        animation: false,
        devicePixelRatio: 1,
        events: [],
        layout: { padding: { left: 133, right: 21, top: 62, bottom: 91 } },
        scales: {
          x: { type: "logarithmic", min: 1, max: 1e5, display: false },
          y: { type: "logarithmic", min: 1e-6, max: 1e8, display: false },
        },
        plugins: {
          legend: { display: false },
          tooltip: { enabled: false },
          title: { display: false },
        },
      },
      plugins: [backgroundPlugin, overlayPlugin],
    } as any);
    return () => chart.destroy();
  }, []);
  return <canvas ref={ref} width={1243} height={965} style={{ display: "block" }} />;
}
